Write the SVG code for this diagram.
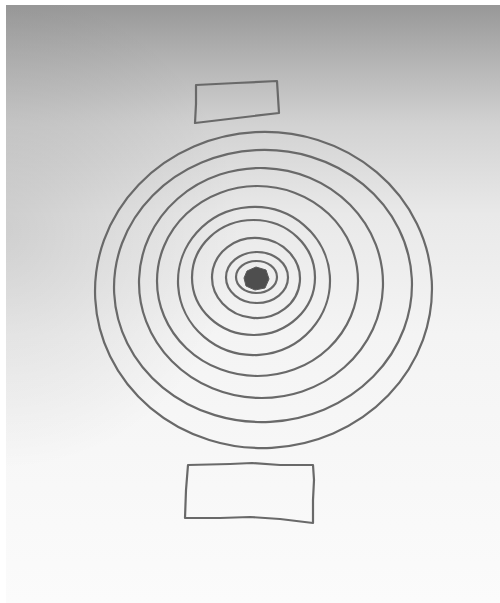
<svg xmlns="http://www.w3.org/2000/svg" width="500" height="603" viewBox="0 0 500 603">
<defs>
<linearGradient id="bgv" gradientUnits="userSpaceOnUse" x1="0" y1="5" x2="0" y2="603">
<stop offset="0" stop-color="#989898"/>
<stop offset="0.08" stop-color="#b0b0b0"/>
<stop offset="0.2" stop-color="#d2d2d2"/>
<stop offset="0.35" stop-color="#e9e9e9"/>
<stop offset="0.55" stop-color="#f4f4f4"/>
<stop offset="1" stop-color="#fbfbfb"/>
</linearGradient>
<radialGradient id="shadeL" gradientUnits="userSpaceOnUse" cx="0" cy="230" r="240">
<stop offset="0" stop-color="#000" stop-opacity="0.12"/>
<stop offset="1" stop-color="#000" stop-opacity="0"/>
</radialGradient>
<style>
.ink{fill:none;stroke:#696969;stroke-width:2.2;stroke-linejoin:round;stroke-linecap:round}
.blob{fill:#4e4e4e;stroke:#5a5a5a;stroke-width:1}
</style>
</defs>
<rect width="500" height="603" fill="#ffffff"/>
<rect x="6" y="5" width="494" height="598" fill="url(#bgv)"/>
<rect x="6" y="5" width="494" height="598" fill="url(#shadeL)"/>
<g id="top-box"><path class="ink" d="M196,85 L236,83 L277,81 L278,97 L279,113 L237,118 L195,123 L196,104 Z"/></g>
<g id="rings">
<ellipse class="ink" cx="263.5" cy="290" rx="168.5" ry="158" transform="rotate(-3 263.5 290)"/>
<ellipse class="ink" cx="263" cy="286" rx="149" ry="136" transform="rotate(-3 263 286)"/>
<ellipse class="ink" cx="261" cy="283" rx="122" ry="115" transform="rotate(2 261 283)"/>
<ellipse class="ink" cx="257.5" cy="281" rx="100.5" ry="95"/>
<ellipse class="ink" cx="254" cy="281" rx="76" ry="74" transform="rotate(-4 254 281)"/>
<ellipse class="ink" cx="253.5" cy="277.5" rx="61.5" ry="57.5"/>
<ellipse class="ink" cx="256" cy="278" rx="44" ry="40" transform="rotate(5 256 278)"/>
<ellipse class="ink" cx="257" cy="277.5" rx="31" ry="25.5"/>
<ellipse class="ink" cx="256.5" cy="277" rx="20.5" ry="16"/>
</g>
<g id="center"><path class="blob" d="M247,271 L256,267 L266,270 L269,279 L265,288 L255,290 L246,286 L244,278 Z"/></g>
<g id="bottom-box"><path class="ink" d="M188,465 L230,464 L252,463 L280,465 L313,465 L314,480 L313,500 L313,523 L280,519 L250,517 L220,518 L185,518 L186,490 Z"/></g>
</svg>
